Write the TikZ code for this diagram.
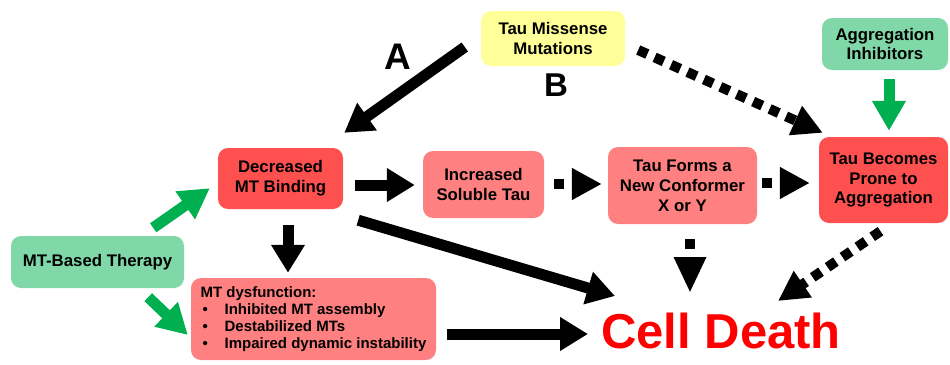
\documentclass[tikz,border=0pt]{standalone}
\usepackage{fontspec}
\setmainfont{Liberation Sans}
\usetikzlibrary{arrows.meta}

\definecolor{redbox}{RGB}{255,80,80}
\definecolor{pinkbox}{RGB}{255,128,128}
\definecolor{greenbox}{RGB}{128,216,168}
\definecolor{yellowbox}{RGB}{255,255,153}
\definecolor{greenarr}{RGB}{0,176,80}
\definecolor{deathred}{RGB}{255,0,0}

\newcommand{\dysbullet}{\makebox[24pt][l]{\hspace{2pt}\textbullet}}

\begin{document}
\begin{tikzpicture}[x=1pt,y=-1pt]
    \tikzstyle{box}=[rounded corners=10pt, inner sep=0pt, align=center, font=\fontsize{16.8}{19.8}\selectfont\bfseries]
    \tikzstyle{barr}=[line width=11pt, -{Triangle[length=28pt,width=32pt]}]
    \tikzstyle{darr}=[line width=10pt, dash pattern=on 10pt off 8pt, -{Triangle[length=30pt,width=30pt]}]
    \tikzstyle{garr}=[line width=11pt, greenarr, -{Triangle[length=30pt,width=32pt]}]

    \useasboundingbox (0,0) rectangle (950,364);

    % boxes
    \node[box, fill=yellowbox, minimum width=144pt, minimum height=55pt] (mis) at (553,38.5) {Tau Missense\\Mutations};
    \node[box, fill=greenbox, minimum width=126pt, minimum height=52pt] (inh) at (885,44) {Aggregation\\Inhibitors};
    \node[box, fill=redbox, minimum width=125pt, minimum height=61pt] (dec) at (280.5,178.5) {Decreased\\MT Binding};
    \node[box, fill=pinkbox, minimum width=121pt, minimum height=67pt] (inc) at (483.5,184.5) {Increased\\Soluble Tau};
    \node[box, fill=pinkbox, minimum width=149pt, minimum height=77pt] (frm) at (682.5,185.5) {Tau Forms a\\New Conformer\\X or Y};
    \node[box, fill=redbox, minimum width=129pt, minimum height=86pt] (pro) at (883.5,180) {Tau Becomes\\Prone to\\Aggregation};
    \node[box, fill=greenbox, minimum width=173pt, minimum height=52pt] (ther) at (97.5,262) {MT-Based Therapy};
    \node[box, fill=pinkbox, minimum width=245pt, minimum height=82pt, align=left, font=\fontsize{15}{17}\selectfont\bfseries] (dys) at (313.5,319)
        {MT dysfunction:\\ \dysbullet Inhibited MT assembly\\ \dysbullet Destabilized MTs\\ \dysbullet Impaired dynamic instability};

    \node[inner sep=0pt, anchor=base west, text=deathred, font=\fontsize{49}{50}\selectfont\bfseries] (death) at (601,348) {Cell Death};

    { \bfseries
        \node[font=\fontsize{37}{40}\selectfont\bfseries] (lblA) at (397.5,56.5) {A};
        \node[font=\fontsize{33}{36}\selectfont\bfseries] (lblB) at (556,85) {B};
    }

    % pathway A and B
    \draw[barr] ([shift={(-16,8.5)}]mis.west) -- ([shift={(1,-15)}]dec.north east);
    \draw[darr] ([shift={(13,11.5)}]mis.east) -- ([shift={(4,-4)}]pro.north west);

    % main chain
    \draw[barr] ([shift={(12,6.5)}]dec.east) -- ([shift={(-8,0.5)}]inc.west);
    \draw[darr] ([shift={(10,-0.5)}]inc.east) -- ([shift={(-6,-1.5)}]frm.west);
    \draw[darr] ([shift={(5,-2.5)}]frm.east) -- ([shift={(-9,3)}]pro.west);
    \draw[barr] ([shift={(7.5,16)}]dec.south) -- ([shift={(-25.5,-5)}]dys.north);

    % towards cell death
    \draw[barr] ([shift={(15,11)}]dec.south east) -- ([shift={(14,-52)}]death.base west);
    \draw[barr] ([shift={(11,15)}]dys.east) -- ([shift={(-13,-14)}]death.base west);
    \draw[darr, -{Triangle[length=36pt,width=30pt]}] ([shift={(7.5,15)}]frm.south) -- ([shift={(89,-55)}]death.base west);
    \draw[darr] ([shift={(-3,8)}]pro.south) -- ([shift={(177,-47)}]death.base west);

    % therapies
    \draw[garr] ([shift={(4,9)}]inh.south) -- ([shift={(5.5,-6)}]pro.north);
    \draw[garr] ([shift={(-31,-8)}]ther.north east) -- ([shift={(-8,-21)}]dec.south west);
    \draw[garr] ([shift={(-36,9)}]ther.south east) -- ([shift={(-3,16)}]dys.west);

\end{tikzpicture}
\end{document}
